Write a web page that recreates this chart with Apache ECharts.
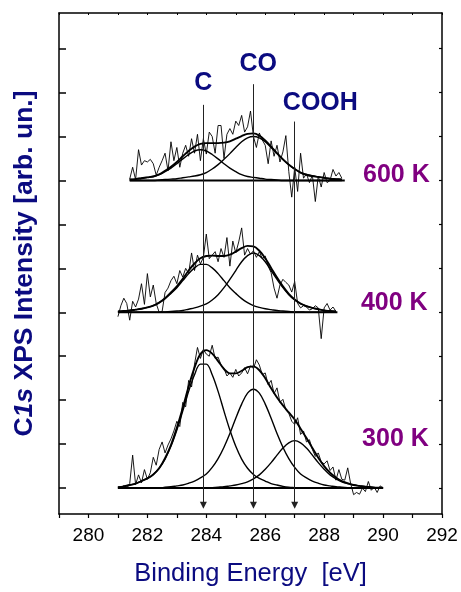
<!DOCTYPE html>
<html><head><meta charset="utf-8">
<script src="https://cdn.jsdelivr.net/npm/echarts@6/dist/echarts.min.js"></script>
<style>html,body{margin:0;padding:0;background:#fff}#c{width:461px;height:592px}</style>
</head><body><div id="c"></div>
<script>
// ---- axis / labels ----
const xTickLabels = [280, 282, 284, 286, 288, 290, 292];
const yTickValues = [0, 1, 2, 3, 4, 5, 6, 7, 8, 9, 10];
const temps = ['300 K', '400 K', '600 K'];
const offsets = [0, 4, 7];
const peakNames = ['C', 'CO', 'COOH'];
const peakE = [283.9, 285.6, 287.0];
const arrowTop = [8.72, 9.19, 8.34];
const arrowBottom = -0.39;
const peakLabelE = [283.9, 285.76, 287.87];
const peakLabelY = [9.22, 9.64, 8.77];
const tempLabelE = [290.42, 290.38, 290.45];
const tempLabelY = [1.11, 4.2, 7.13];
const baseRanges = [[281.0, 290.0], [281.0, 288.45], [281.4, 288.7]];

// ---- measured spectra (0.1 eV steps), relative to each baseline ----
const raw300Start = 281.1;
const raw300 = [0.02,0.05,0.00,0.10,0.75,0.08,0.30,0.12,0.42,
0.20,0.35,0.70,0.52,0.88,1.05,0.80,0.98,1.12,1.30,
1.52,1.40,1.95,1.85,2.45,2.30,2.82,3.20,2.95,3.15,
3.05,3.00,3.25,2.95,2.98,2.80,2.72,2.55,2.62,2.52,
2.70,2.55,2.62,2.74,2.60,2.78,2.72,2.92,2.80,2.58,
2.62,2.35,2.45,2.15,2.28,1.95,2.02,1.78,1.70,1.52,
1.45,1.60,1.22,1.30,1.05,1.10,0.88,0.72,0.80,0.60,
0.55,0.62,0.40,0.48,0.18,0.42,0.20,0.18,0.46,0.10,
-0.15,-0.10,-0.14,0.00,-0.08,0.15,-0.05,0.02,-0.10,0.05,0.00];
const raw400Start = 281.0;
const raw400 = [-0.10,0.15,0.32,0.20,-0.18,0.25,0.12,0.30,0.65,0.18,
0.88,0.35,0.62,0.20,0.00,0.02,0.45,0.55,0.72,0.82,
0.65,0.95,0.80,1.00,0.88,1.35,0.95,1.30,1.10,1.25,
1.78,1.22,1.30,1.38,1.15,1.45,1.25,1.70,1.05,1.62,
1.35,1.60,1.92,1.30,1.45,1.32,1.40,1.25,1.38,1.22,
1.28,1.05,0.90,0.55,0.32,0.62,0.75,0.68,0.62,0.46,
0.70,0.20,0.10,0.15,0.12,0.05,0.08,0.15,0.10,-0.60,
0.10,0.20,0.05,0.12,0.02];
const raw600Start = 281.4;
const raw600 = [0.03,0.30,0.02,0.70,0.35,0.45,
0.42,0.48,0.38,0.12,0.30,0.45,0.62,0.22,0.88,0.45,
0.75,0.30,0.62,0.80,0.55,0.95,0.62,1.05,0.45,0.95,
0.60,1.10,1.00,0.62,1.25,1.25,0.50,1.05,1.18,1.05,
1.35,1.25,1.48,1.10,1.22,1.58,1.00,0.75,1.08,0.92,
0.80,0.38,0.90,0.55,0.80,0.42,0.65,1.02,0.20,-0.38,
0.30,-0.25,0.62,0.05,0.15,-0.05,0.12,-0.48,0.10,-0.15,
0.18,-0.05,0.00,0.25,0.10,0.18,0.05];

// ---- fitted curves (0.2 eV steps), relative to each baseline ----
const fit300Start = 281.0;
const env300 = [0.02,0.04,0.07,0.10,0.16,0.22,0.31,0.45,0.68,0.98,1.37,1.82,2.31,2.74,3.05,3.14,3.06,2.89,2.71,2.61,2.61,2.67,2.75,2.77,2.68,2.50,2.27,2.06,1.88,1.72,1.56,1.35,1.14,0.91,0.69,0.50,0.35,0.24,0.16,0.11,0.07,0.05,0.03,0.02,0.01,0.01];
const c300 = [0.02,0.04,0.07,0.10,0.16,0.22,0.31,0.45,0.66,0.95,1.32,1.75,2.20,2.58,2.82,2.82,2.58,2.20,1.75,1.32,0.95,0.66,0.45,0.31,0.22,0.16,0.10,0.07,0.04,0.02,0.01,0,0,0,0,0,0,0,0,0,0,0,0,0,0,0];
const co300 = [0,0,0,0,0,0,0,0,0.02,0.03,0.05,0.07,0.11,0.16,0.23,0.32,0.47,0.67,0.93,1.24,1.59,1.91,2.16,2.25,2.16,1.91,1.59,1.24,0.93,0.67,0.47,0.32,0.23,0.16,0.11,0.07,0.05,0.03,0.02,0.01,0,0,0,0,0,0];
const cooh300 = [0,0,0,0,0,0,0,0,0,0,0,0,0,0,0,0,0.01,0.02,0.03,0.05,0.07,0.10,0.14,0.21,0.30,0.43,0.58,0.75,0.91,1.03,1.08,1.03,0.91,0.75,0.58,0.43,0.30,0.21,0.14,0.10,0.07,0.05,0.03,0.02,0.01,0.01];
const fit400Start = 281.0;
const env400 = [0.02,0.03,0.04,0.06,0.08,0.11,0.15,0.22,0.32,0.45,0.59,0.76,0.95,1.11,1.23,1.28,1.29,1.28,1.28,1.31,1.38,1.46,1.51,1.50,1.40,1.23,1.01,0.79,0.59,0.42,0.29,0.20,0.14,0.10,0.07,0.04,0.03,0.02];
const c400 = [0.02,0.03,0.04,0.06,0.08,0.11,0.15,0.22,0.31,0.43,0.56,0.72,0.88,1.01,1.09,1.09,1.01,0.88,0.72,0.56,0.43,0.31,0.22,0.15,0.11,0.08,0.06,0.04,0.03,0.02,0.01,0.01,0,0,0,0,0,0];
const co400 = [0,0,0,0,0,0,0,0,0.01,0.02,0.03,0.04,0.07,0.10,0.14,0.19,0.28,0.40,0.56,0.75,0.95,1.15,1.29,1.35,1.29,1.15,0.95,0.75,0.56,0.40,0.28,0.19,0.14,0.10,0.07,0.04,0.03,0.02];
const fit600Start = 281.4;
const env600 = [0.02,0.03,0.05,0.07,0.09,0.14,0.22,0.31,0.42,0.55,0.67,0.77,0.83,0.85,0.85,0.85,0.86,0.89,0.95,1.01,1.06,1.07,1.02,0.91,0.77,0.62,0.48,0.36,0.26,0.18,0.13,0.10,0.08,0.06,0.04,0.03,0.02];
const c600 = [0.02,0.03,0.05,0.07,0.09,0.13,0.20,0.28,0.38,0.49,0.59,0.67,0.70,0.67,0.59,0.49,0.38,0.28,0.20,0.13,0.09,0.07,0.05,0.03,0.02,0.01,0,0,0,0,0,0,0,0,0,0,0];
const co600 = [0,0,0,0,0,0.01,0.02,0.03,0.04,0.06,0.08,0.10,0.13,0.18,0.26,0.36,0.48,0.61,0.75,0.88,0.97,1.00,0.97,0.88,0.75,0.61,0.48,0.36,0.26,0.18,0.13,0.10,0.08,0.06,0.04,0.03,0.02];

const NAVY = '#0b0b80';
const PURPLE = '#800080';
const FONT = 'Liberation Sans';

function pairs(start, step, vals, off) {
  return vals.map((v, i) => [Math.round((start + i * step) * 100) / 100, v + off]);
}
function lineSeries(data, width, smooth) {
  return { type: 'line', data, showSymbol: false, symbol: 'none', smooth: smooth ? 0.35 : false,
    lineStyle: { color: '#000', width }, silent: true, z: 3 };
}

const series = [];
const rawSets = [[raw300Start, raw300], [raw400Start, raw400], [raw600Start, raw600]];
const fitSets = [
  [fit300Start, env300, [c300, co300, cooh300]],
  [fit400Start, env400, [c400, co400]],
  [fit600Start, env600, [c600, co600]]
];
for (let k = 0; k < 3; k++) {
  const off = offsets[k];
  series.push(lineSeries(pairs(rawSets[k][0], 0.1, rawSets[k][1], off), 0.9, false));
  series.push(lineSeries(baseRanges[k].map(e => [e, off]), 2, false));
  const [fs, env, comps] = fitSets[k];
  comps.forEach(c => series.push(lineSeries(pairs(fs, 0.2, c, off), 1.4, true)));
  series.push(lineSeries(pairs(fs, 0.2, env, off), 1.9, true));
}
// vertical arrows
series.push({
  type: 'line', data: [], silent: true, z: 2,
  markLine: {
    silent: true, animation: false, symbol: ['none', 'triangle'], symbolSize: 7,
    symbolRotate: 180,
    label: { show: false },
    itemStyle: { color: '#222' },
    lineStyle: { color: '#222', width: 1, type: 'solid' },
    emphasis: { disabled: true },
    data: peakE.map((e, i) => [{ coord: [e, arrowTop[i]] }, { coord: [e, arrowBottom] }])
  }
});
// peak names
series.push({
  type: 'scatter', symbolSize: 0, silent: true, z: 5,
  itemStyle: { opacity: 1 },
  data: peakNames.map((n, i) => ({ name: n, value: [peakLabelE[i], peakLabelY[i]] })),
  label: { show: true, position: 'inside', formatter: '{b}', color: NAVY, fontSize: 25,
    fontWeight: 'bold', fontFamily: FONT, opacity: 1 }
});
// temperatures
series.push({
  type: 'scatter', symbolSize: 0, silent: true, z: 5,
  itemStyle: { opacity: 1 },
  data: temps.map((n, i) => ({ name: n, value: [tempLabelE[i], tempLabelY[i]] })),
  label: { show: true, position: 'inside', formatter: '{b}', color: PURPLE, fontSize: 25,
    fontWeight: 'bold', fontFamily: FONT, opacity: 1 }
});

const axisLine = { show: true, onZero: false, lineStyle: { color: '#000', width: 1.5 } };
const option = {
  animation: false,
  backgroundColor: '#fff',
  grid: { left: 59, right: 19, top: 13, bottom: 70, containLabel: false },
  xAxis: [
    { type: 'value', min: 279, max: 292, interval: 1, position: 'bottom',
      axisLine, splitLine: { show: false },
      axisTick: { show: true, inside: false, length: 4, lineStyle: { color: '#000', width: 1.2 } },
      axisLabel: { formatter: v => xTickLabels.includes(v) ? String(v) : '', color: '#000',
        fontSize: 19, fontFamily: FONT, margin: 12, showMaxLabel: true, showMinLabel: true },
      name: 'Binding Energy  [eV]', nameLocation: 'middle', nameGap: 47,
      nameTextStyle: { color: NAVY, fontSize: 25.5, fontFamily: FONT } },
    { type: 'value', min: 279, max: 292, interval: 1, position: 'top',
      axisLine, splitLine: { show: false },
      axisTick: { show: true, inside: true, length: 2, lineStyle: { color: '#000', width: 1 } },
      axisLabel: { show: false } }
  ],
  yAxis: [
    { type: 'value', min: -0.59, max: 10.81, position: 'left',
      axisLine, splitLine: { show: false },
      axisTick: { show: true, inside: true, length: 7, customValues: yTickValues,
        lineStyle: { color: '#000', width: 1.5 } },
      axisLabel: { show: false },
      name: 'C{i|1s} XPS Intensity [arb. un.]', nameLocation: 'middle', nameGap: 21, nameRotate: 90,
      nameTextStyle: { color: NAVY, fontSize: 26.5, fontWeight: 'bold', fontFamily: FONT,
        rich: { i: { color: NAVY, fontSize: 26.5, fontWeight: 'bold', fontStyle: 'italic', fontFamily: FONT } } } },
    { type: 'value', min: -0.59, max: 10.81, position: 'right',
      axisLine, splitLine: { show: false },
      axisTick: { show: true, inside: true, length: 3, customValues: yTickValues,
        lineStyle: { color: '#000', width: 1.2 } },
      axisLabel: { show: false } }
  ],
  series
};
const chart = echarts.init(document.getElementById('c'), null, { renderer: 'canvas' });
chart.setOption(option);
</script></body></html>
